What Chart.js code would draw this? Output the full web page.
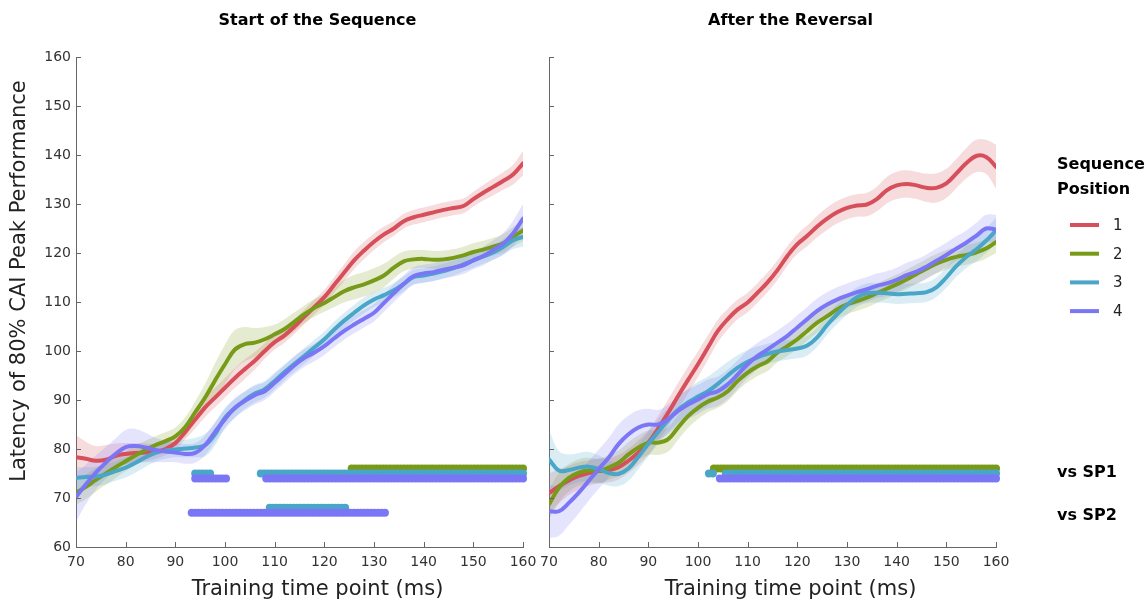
<!DOCTYPE html>
<html>
<head>
<meta charset="utf-8">
<script src="https://cdn.jsdelivr.net/npm/chart.js@4.4.0/dist/chart.umd.min.js"></script>
<style>
  html, body { margin: 0; padding: 0; background: #fff; width: 1148px; height: 605px; overflow: hidden; }
  #wrap { position: relative; width: 1148px; height: 605px; }
  canvas { position: absolute; top: 0; }
  #left { left: 0; }
  #right { left: 500px; }
</style>
</head>
<body>
<div id="wrap">
  <canvas id="left" width="545" height="605"></canvas>
  <canvas id="right" width="648" height="605"></canvas>
</div>
<script>
// training time points (ms)
const TIMES = [70, 72, 74, 76, 78, 80, 82, 84, 86, 88, 90, 92, 94, 96, 98, 100, 102, 104, 106, 108,
    110, 112, 114, 116, 118, 120, 122, 124, 126, 128, 130, 132, 134, 136, 138, 140, 142, 144, 146, 148,
    150, 152, 154, 156, 158, 160];
const X_TICKS = [70, 80, 90, 100, 110, 120, 130, 140, 150, 160];
const Y_TICKS = [60, 70, 80, 90, 100, 110, 120, 130, 140, 150, 160];
const POSITIONS = ['1', '2', '3', '4'];

// Start of the Sequence - mean latency per sequence position
const START_SP1 = [78.3, 78.0, 77.6, 77.8, 78.6, 79.0, 79.2, 79.3, 79.5, 80.0, 81.2, 83.5, 86.0, 88.5, 90.5, 92.5, 94.5, 96.3, 98.0, 100.0,
    101.8, 103.2, 105.0, 107.0, 109.0, 111.0, 113.5, 116.0, 118.5, 120.5, 122.3, 123.8, 125.0, 126.5, 127.3, 127.8, 128.3, 128.8, 129.2, 129.6,
    131.0, 132.3, 133.5, 134.7, 136.0, 138.3];
const START_SP2 = [71.1, 72.3, 73.7, 75.0, 76.3, 77.5, 78.7, 79.8, 80.8, 81.6, 82.6, 84.5, 87.5, 90.5, 94.0, 97.3, 100.3, 101.4, 101.7, 102.4,
    103.4, 104.5, 106.0, 107.5, 108.8, 109.8, 111.0, 112.2, 113.0, 113.6, 114.4, 115.4, 117.0, 118.3, 118.7, 118.8, 118.6, 118.7, 119.0, 119.5,
    120.2, 120.7, 121.3, 122.0, 123.3, 124.6];
const START_SP3 = [74.1, 74.3, 74.4, 74.8, 75.5, 76.2, 77.2, 78.3, 79.2, 79.7, 79.9, 80.1, 80.3, 80.8, 83.0, 86.4, 88.3, 90.0, 91.3, 92.2,
    93.9, 95.7, 97.4, 99.0, 100.7, 102.4, 104.4, 106.2, 107.8, 109.3, 110.5, 111.4, 112.4, 113.7, 115.1, 115.4, 115.8, 116.3, 116.9, 117.7,
    118.5, 119.3, 120.1, 121.2, 122.6, 123.3];
const START_SP4 = [70.2, 72.8, 75.2, 77.2, 79.0, 80.4, 80.6, 80.3, 79.8, 79.5, 79.3, 79.0, 79.2, 80.8, 83.5, 86.1, 88.4, 89.8, 91.0, 91.8,
    93.5, 95.3, 97.1, 98.6, 99.7, 101.0, 102.6, 104.1, 105.4, 106.6, 107.8, 109.8, 111.8, 113.7, 115.3, 115.8, 116.1, 116.6, 117.0, 117.5,
    118.5, 119.4, 120.6, 121.9, 124.0, 127.0];

// Start of the Sequence - SEM (half width of the shaded band)
const START_SEM1 = [4.5, 3.5, 3.0, 3.0, 2.5, 2.2, 2.0, 1.8, 1.5, 1.3, 1.3, 1.5, 1.8, 2.0, 2.0, 2.0, 2.0, 2.0, 1.8, 1.6,
    1.5, 1.5, 1.5, 1.5, 1.5, 1.5, 1.6, 1.7, 1.8, 1.8, 1.7, 1.6, 1.5, 1.5, 1.5, 1.5, 1.5, 1.5, 1.5, 1.5,
    1.5, 1.6, 1.7, 1.8, 2.0, 2.5];
const START_SEM2 = [2.5, 2.5, 2.4, 2.3, 2.2, 2.0, 2.0, 1.9, 1.8, 1.8, 1.8, 2.0, 2.2, 2.8, 3.5, 4.0, 4.0, 3.5, 3.0, 2.5,
    2.0, 2.0, 1.9, 1.8, 1.8, 1.8, 2.0, 2.3, 2.5, 2.5, 2.5, 2.4, 2.2, 2.0, 1.9, 1.8, 1.8, 1.8, 1.8, 1.8,
    1.8, 1.8, 1.8, 1.9, 2.0, 2.2];
const START_SEM3 = [2.2, 2.0, 2.0, 2.0, 2.0, 2.0, 2.0, 1.9, 1.8, 1.7, 1.6, 1.8, 2.0, 2.3, 2.3, 2.0, 1.9, 1.8, 1.8, 1.7,
    1.7, 1.6, 1.6, 1.6, 1.6, 1.6, 1.6, 1.6, 1.6, 1.6, 1.5, 1.5, 1.5, 1.5, 1.5, 1.5, 1.5, 1.5, 1.5, 1.5,
    1.5, 1.5, 1.5, 1.6, 1.8, 2.0];
const START_SEM4 = [5.0, 4.0, 3.5, 3.2, 3.2, 3.5, 3.5, 3.0, 2.5, 2.2, 2.0, 2.0, 2.0, 2.0, 2.0, 2.0, 2.0, 1.9, 1.9, 1.8,
    1.8, 1.8, 1.8, 1.8, 1.8, 1.8, 1.8, 1.8, 1.8, 1.8, 1.8, 1.8, 1.8, 1.8, 1.8, 1.8, 1.8, 1.8, 1.8, 1.8,
    1.8, 1.9, 2.0, 2.2, 2.6, 3.0];

// After the Reversal - mean latency per sequence position
const REV_SP1 = [71.0, 72.4, 73.6, 74.5, 75.1, 75.5, 75.7, 76.3, 77.6, 79.3, 81.3, 84.2, 87.4, 90.8, 94.1, 97.3, 100.7, 104.1, 106.5, 108.5,
    109.9, 111.9, 114.0, 116.5, 119.4, 121.8, 123.5, 125.4, 127.0, 128.3, 129.2, 129.7, 129.9, 131.0, 132.8, 133.8, 134.1, 133.8, 133.3, 133.3,
    134.2, 136.2, 138.3, 139.8, 139.6, 137.6];
const REV_SP2 = [68.7, 72.1, 74.1, 75.2, 75.6, 75.5, 76.2, 77.2, 78.9, 80.3, 81.3, 81.3, 82.0, 84.4, 86.7, 88.4, 89.7, 90.5, 91.8, 93.9,
    95.6, 96.9, 97.9, 99.7, 101.0, 102.4, 104.1, 105.8, 107.1, 108.5, 109.5, 110.2, 110.9, 111.8, 112.7, 113.6, 114.6, 115.7, 116.8, 117.8,
    118.6, 119.2, 119.6, 120.1, 120.9, 122.2];
const REV_SP3 = [77.9, 75.6, 75.7, 76.2, 76.4, 75.9, 75.1, 74.9, 76.0, 78.4, 81.0, 83.5, 85.9, 88.0, 89.5, 90.7, 91.8, 93.3, 95.0, 96.6,
    97.8, 98.7, 99.4, 99.9, 100.2, 100.5, 101.1, 102.8, 105.3, 107.5, 109.4, 111.0, 111.8, 111.9, 111.8, 111.6, 111.7, 111.8, 112.0, 113.0,
    115.0, 117.3, 119.2, 120.7, 122.5, 124.6];
const REV_SP4 = [67.3, 67.3, 69.0, 71.1, 73.5, 75.9, 78.2, 81.0, 83.0, 84.4, 85.0, 85.0, 86.1, 87.8, 89.1, 90.1, 91.2, 91.8, 93.2, 95.2,
    97.3, 99.0, 100.3, 101.7, 103.1, 104.8, 106.5, 108.2, 109.5, 110.5, 111.3, 112.0, 112.6, 113.3, 113.8, 114.5, 115.5, 116.2, 117.2, 118.4,
    119.6, 120.9, 122.1, 123.5, 125.0, 124.8];

// After the Reversal - SEM
const REV_SEM1 = [4.0, 3.5, 3.0, 2.8, 2.6, 2.5, 2.5, 2.5, 2.5, 2.5, 2.5, 2.6, 2.7, 2.7, 2.7, 2.6, 2.5, 2.3, 2.1, 2.0,
    2.0, 2.0, 2.0, 2.0, 2.0, 2.0, 2.1, 2.2, 2.3, 2.3, 2.3, 2.3, 2.4, 2.5, 2.7, 2.8, 2.8, 2.8, 2.9, 3.0,
    3.0, 3.0, 3.1, 3.3, 3.5, 4.5];
const REV_SEM2 = [3.0, 3.0, 2.8, 2.7, 2.6, 2.5, 2.5, 2.5, 2.5, 2.5, 2.5, 2.5, 2.5, 2.5, 2.4, 2.3, 2.2, 2.1, 2.0, 2.0,
    2.0, 2.0, 2.0, 2.0, 2.0, 2.0, 2.0, 2.0, 2.0, 2.0, 2.0, 2.0, 2.0, 2.0, 2.0, 2.0, 2.0, 2.0, 2.0, 2.0,
    2.0, 2.0, 2.0, 2.0, 2.0, 2.2];
const REV_SEM3 = [6.0, 4.0, 3.2, 3.0, 3.0, 2.8, 2.6, 2.5, 2.5, 2.5, 2.5, 2.5, 2.5, 2.6, 2.8, 3.0, 3.0, 3.0, 2.8, 2.6,
    2.4, 2.2, 2.1, 2.0, 2.0, 2.0, 2.0, 2.0, 2.0, 2.0, 2.0, 2.0, 2.0, 2.0, 2.0, 2.0, 2.0, 2.0, 2.0, 2.0,
    2.1, 2.2, 2.3, 2.4, 2.5, 2.6];
const REV_SEM4 = [5.5, 5.0, 4.5, 4.2, 4.0, 4.0, 4.0, 4.0, 3.8, 3.5, 3.2, 3.0, 3.0, 3.0, 3.0, 3.0, 3.0, 3.0, 3.0, 2.9,
    2.8, 2.7, 2.6, 2.5, 2.5, 2.5, 2.5, 2.5, 2.5, 2.5, 2.5, 2.5, 2.5, 2.5, 2.5, 2.5, 2.5, 2.5, 2.5, 2.5,
    2.5, 2.5, 2.5, 2.6, 2.8, 3.0];

// significant intervals (ms) - rows plotted at these latency levels
const SIG_LEVELS = [76, 75, 74, 68, 67];       // SP2 vs SP1, SP3 vs SP1, SP4 vs SP1, SP3 vs SP2, SP4 vs SP2
const SIG_SERIES = [1, 2, 3, 2, 3];
const START_SIG = [
    [[125.5, 160]],
    [[94, 97], [107.2, 160]],
    [[94, 100.2], [108.3, 160]],
    [[109, 124.2]],
    [[93.3, 132.2]]
];
const REV_SIG = [
    [[103.2, 160]],
    [[102.2, 103], [105.6, 160]],
    [[104.4, 160]],
    [],
    []
];
const SIG_STEP = 0.7;

const COLORS = ['#d64f5a', '#779b18', '#4aa6c8', '#7a76f6'];
const AXIS_COLOR = '#666';
const TEXT_COLOR = '#333';
const FONT = '"DejaVu Sans", Verdana, sans-serif';

Chart.defaults.font.family = FONT;

function rgba(hex, a) {
    const n = parseInt(hex.slice(1), 16);
    return 'rgba(' + (n >> 16) + ',' + ((n >> 8) & 255) + ',' + (n & 255) + ',' + a + ')';
}

function buildDatasets(means, sems, sig) {
    const ds = [];
    // shaded bands: upper filled down to lower
    means.forEach(function (m, i) {
        ds.push({
            data: TIMES.map(function (t, k) { return { x: t, y: m[k] + sems[i][k] }; }),
            borderWidth: 0, pointRadius: 0, tension: 0.4,
            fill: '+1', backgroundColor: rgba(COLORS[i], 0.2), order: 60 - i * 2
        });
        ds.push({
            data: TIMES.map(function (t, k) { return { x: t, y: m[k] - sems[i][k] }; }),
            borderWidth: 0, pointRadius: 0, tension: 0.4,
            fill: false, order: 59 - i * 2
        });
    });
    // mean lines
    means.forEach(function (m, i) {
        ds.push({
            data: TIMES.map(function (t, k) { return { x: t, y: m[k] }; }),
            borderColor: COLORS[i], borderWidth: 4, pointRadius: 0, tension: 0.4,
            borderCapStyle: 'round', borderJoinStyle: 'round', fill: false, order: 30 - i
        });
    });
    // significance dots
    sig.forEach(function (spans, r) {
        const pts = [];
        spans.forEach(function (s) {
            const n = Math.max(1, Math.round((s[1] - s[0]) / SIG_STEP));
            for (let k = 0; k <= n; k++) pts.push({ x: s[0] + k * (s[1] - s[0]) / n, y: SIG_LEVELS[r] });
        });
        const c = COLORS[SIG_SERIES[r]];
        ds.push({
            data: pts, showLine: false, pointRadius: 4, pointHoverRadius: 4,
            pointBackgroundColor: c, pointBorderWidth: 0, clip: false,
            order: 10 - SIG_SERIES[r]
        });
    });
    return ds;
}

// MATLAB-like ticks pointing into the plot
const inwardTicks = {
    id: 'inwardTicks',
    afterDraw(chart) {
        const ctx = chart.ctx, x = chart.scales.x, y = chart.scales.y, a = chart.chartArea;
        ctx.save();
        ctx.strokeStyle = AXIS_COLOR;
        ctx.lineWidth = 1;
        ctx.beginPath();
        X_TICKS.forEach(function (v) {
            const px = Math.round(x.getPixelForValue(v)) + 0.5;
            ctx.moveTo(px, a.bottom);
            ctx.lineTo(px, a.bottom - 5);
        });
        Y_TICKS.forEach(function (v) {
            const py = Math.round(y.getPixelForValue(v)) + 0.5;
            ctx.moveTo(a.left, py);
            ctx.lineTo(a.left + 5, py);
        });
        ctx.stroke();
        ctx.restore();
    }
};

function panelText(title, yTitle) {
    return {
        id: 'panelText',
        afterDraw(chart) {
            const ctx = chart.ctx, a = chart.chartArea;
            const cx = (a.left + a.right) / 2 + 18;
            ctx.save();
            ctx.fillStyle = '#000';
            ctx.textAlign = 'center';
            ctx.textBaseline = 'middle';
            ctx.font = 'bold 16px ' + FONT;
            ctx.fillText(title, cx, 21);
            ctx.fillStyle = '#222';
            ctx.font = '21px ' + FONT;
            ctx.fillText('Training time point (ms)', cx, 590);
            if (yTitle) {
                ctx.translate(20, 281);
                ctx.rotate(-Math.PI / 2);
                ctx.fillText(yTitle, 0, 0);
            }
            ctx.restore();
        }
    };
}

const legendText = {
    id: 'legendText',
    afterDraw(chart) {
        const ctx = chart.ctx, a = chart.chartArea, y = chart.scales.y;
        const lx = a.right + 61;
        ctx.save();
        ctx.fillStyle = '#000';
        ctx.textAlign = 'left';
        ctx.textBaseline = 'middle';
        ctx.font = 'bold 16px ' + FONT;
        ctx.fillText('Sequence', lx, 165);
        ctx.fillText('Position', lx, 190);
        POSITIONS.forEach(function (p, i) {
            const py = 225 + i * 28.7;
            ctx.strokeStyle = COLORS[i];
            ctx.lineWidth = 4;
            ctx.beginPath();
            ctx.moveTo(a.right + 74, py);
            ctx.lineTo(a.right + 103, py);
            ctx.stroke();
            ctx.fillStyle = '#222';
            ctx.font = '15px ' + FONT;
            ctx.fillText(p, a.right + 117, py + 1);
        });
        ctx.fillStyle = '#000';
        ctx.font = 'bold 16px ' + FONT;
        ctx.fillText('vs SP1', lx, y.getPixelForValue(75.1));
        ctx.fillText('vs SP2', lx, y.getPixelForValue(66.4));
        ctx.restore();
    }
};

function makeOptions(yWidth, padRight, showYLabels) {
    return {
        responsive: false,
        animation: false,
        events: [],
        layout: { padding: { left: 0, right: padRight, top: 57, bottom: 0 } },
        plugins: {
            legend: { display: false },
            tooltip: { enabled: false },
            title: { display: false },
            filler: { drawTime: 'beforeDatasetsDraw' }
        },
        scales: {
            x: {
                type: 'linear', min: 70, max: 160,
                afterBuildTicks(s) { s.ticks = X_TICKS.map(function (v) { return { value: v }; }); },
                ticks: { color: TEXT_COLOR, font: { size: 14 }, padding: 7, maxRotation: 0, autoSkip: false },
                grid: { display: false, drawTicks: false },
                border: { display: true, color: AXIS_COLOR, width: 1 },
                afterFit(s) { s.height = 58; }
            },
            y: {
                type: 'linear', min: 60, max: 160,
                afterBuildTicks(s) { s.ticks = Y_TICKS.map(function (v) { return { value: v }; }); },
                ticks: { display: showYLabels, color: TEXT_COLOR, font: { size: 14 }, padding: 5 },
                grid: { display: false, drawTicks: false },
                border: { display: true, color: AXIS_COLOR, width: 1 },
                afterFit(s) { s.width = yWidth; }
            }
        }
    };
}

new Chart(document.getElementById('left'), {
    type: 'line',
    data: { datasets: buildDatasets([START_SP1, START_SP2, START_SP3, START_SP4],
        [START_SEM1, START_SEM2, START_SEM3, START_SEM4], START_SIG) },
    options: makeOptions(76, 22, true),
    plugins: [inwardTicks, panelText('Start of the Sequence', 'Latency of 80% CAI Peak Performance')]
});

new Chart(document.getElementById('right'), {
    type: 'line',
    data: { datasets: buildDatasets([REV_SP1, REV_SP2, REV_SP3, REV_SP4],
        [REV_SEM1, REV_SEM2, REV_SEM3, REV_SEM4], REV_SIG) },
    options: makeOptions(49, 152, false),
    plugins: [inwardTicks, panelText('After the Reversal', null), legendText]
});
</script>
</body>
</html>
